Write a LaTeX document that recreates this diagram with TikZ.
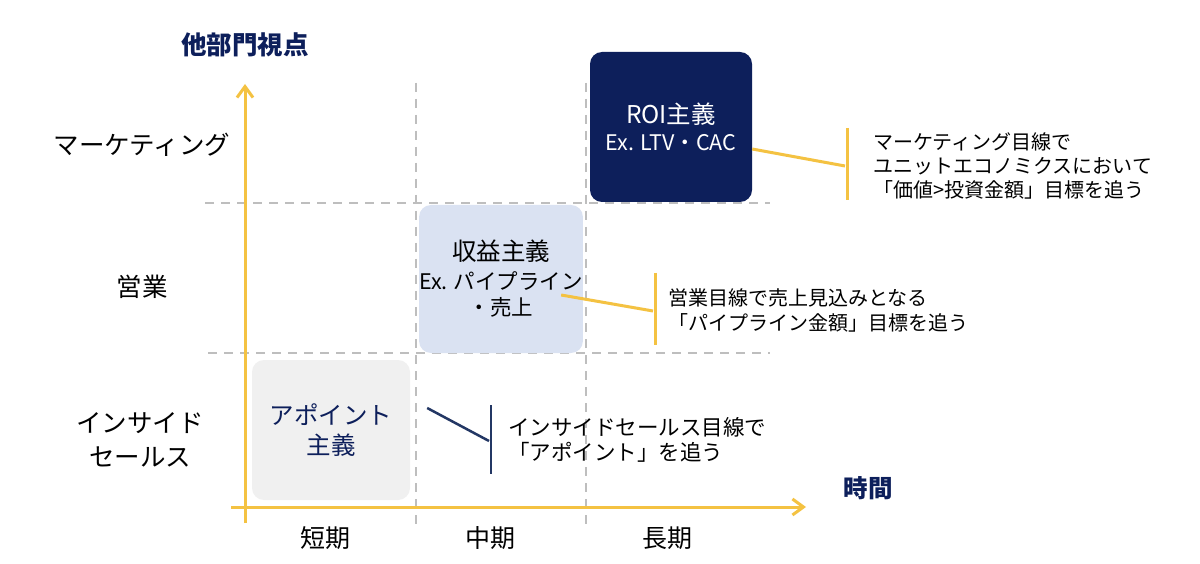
\documentclass[tikz,border=0pt]{standalone}
\usepackage{fontspec}
\setmainfont{Noto Sans CJK JP}
\usetikzlibrary{arrows.meta}
\definecolor{navy}{RGB}{13,31,91}
\definecolor{gold}{RGB}{244,194,66}
\definecolor{paleblue}{RGB}{218,226,242}
\definecolor{palegray}{RGB}{240,240,240}
\definecolor{dashgray}{RGB}{190,190,190}
\definecolor{linknavy}{RGB}{35,55,100}
\newcommand{\fsz}[2]{\fontsize{#1}{#2}\selectfont}
\begin{document}
\begin{tikzpicture}[x=1pt,y=-1pt,
  gridline/.style={draw=dashgray,line width=1.5pt,dash pattern=on 9pt off 7pt},
  axisline/.style={draw=gold,line width=3pt,-{Straight Barb[length=11pt,width=16pt]}},
  quadbox/.style={rounded corners=12pt,inner sep=0pt,align=center},
  rowlabel/.style={font=\fsz{25.5}{34},align=center,inner sep=0pt},
  collabel/.style={font=\fsz{25}{30},inner sep=0pt},
  axistitle/.style={font=\bfseries\fsz{25.5}{30},text=navy,inner sep=0pt},
  note/.style={anchor=west,align=left,inner sep=0pt,font=\fsz{20}{24}},
  goldlink/.style={draw=gold,line width=3pt},
  navylink/.style={draw=linknavy,line width=2.5pt}]
\useasboundingbox[fill=white] (0,0) rectangle (1200,564);

% grid
\coordinate (g1a) at (205,203); \coordinate (g1b) at (770,203);
\coordinate (g2a) at (208,353); \coordinate (g2b) at (770,353);
\coordinate (g3a) at (416,83);  \coordinate (g3b) at (416,524);
\coordinate (g4a) at (586,83);  \coordinate (g4b) at (586,524);
\draw[gridline] (g1a) -- (g1b);
\draw[gridline] (g2a) -- (g2b);
\draw[gridline] (g3a) -- (g3b);
\draw[gridline] (g4a) -- (g4b);

% boxes
\node[quadbox,fill=navy,text=white,minimum width=162pt,minimum height=150pt,
  font=\fsz{21.5}{27}] (roi) at (671,127)
  {{\fsz{24.5}{27}ROI主義}\\Ex. LTV・CAC};
\node[quadbox,fill=paleblue,minimum width=162pt,minimum height=148pt,
  font=\fsz{21.5}{26}] (shueki) at (501,279)
  {{\fsz{24.5}{26}収益主義}\\[3pt]Ex. パイプライン\\・売上};
\node[quadbox,fill=palegray,text=navy,minimum width=158pt,minimum height=140pt,
  font=\fsz{24.5}{30}] (apo) at (331,430)
  {アポイント\\主義};

% axes
\coordinate (vaxb) at (245,523); \coordinate (vaxt) at (245,84);
\coordinate (haxl) at (231,507); \coordinate (haxr) at (806,507);
\draw[axisline] (vaxb) -- (vaxt);
\draw[axisline] (haxl) -- (haxr);

% axis titles
\node[axistitle] (ytitle) at (245,45) {他部門視点};
\node[axistitle,font=\bfseries\fsz{24.5}{30}] (xtitle) at (868,488) {時間};

% row labels
\node[rowlabel] (rmk) at (142,145) {マーケティング};
\node[rowlabel] (rsales) at (142,287) {営業};
\node[rowlabel] (ris) at (140,440) {インサイド\\セールス};

% column labels
\node[collabel] (cshort) at (325,538) {短期};
\node[collabel] (cmid) at (490,538) {中期};
\node[collabel] (clong) at (667,538) {長期};

% annotation 1
\coordinate (b1t) at (847,128); \coordinate (b1b) at (847,200);
\coordinate (b1m) at (845,166);
\coordinate (c1s) at ([yshift=-22pt]roi.east);
\draw[goldlink] (b1t) -- (b1b);
\draw[goldlink] (c1s) -- (b1m);
\node[note] (n1) at (873,166)
  {マーケティング目線で\\ユニットエコノミクスにおいて\\「価値>投資金額」目標を追う};

% annotation 2
\coordinate (b2t) at (655,273); \coordinate (b2b) at (655,345);
\coordinate (b2m) at (653,311);
\coordinate (c2s) at ([xshift=-22pt,yshift=-16pt]shueki.east);
\draw[goldlink] (b2t) -- (b2b);
\draw[goldlink] (c2s) -- (b2m);
\node[note,font=\fsz{20}{25}] (n2) at (668,310)
  {営業目線で売上見込みとなる\\「パイプライン金額」目標を追う};

% annotation 3
\coordinate (b3t) at (491,405); \coordinate (b3b) at (491,474);
\coordinate (b3m) at (489,441);
\coordinate (c3s) at ([xshift=17pt,yshift=22pt]apo.east);
\draw[navylink] (b3t) -- (b3b);
\draw[navylink] (c3s) -- (b3m);
\node[note,font=\fsz{21.5}{25}] (n3) at (508,440)
  {インサイドセールス目線で\\「アポイント」を追う};
\end{tikzpicture}
\end{document}
